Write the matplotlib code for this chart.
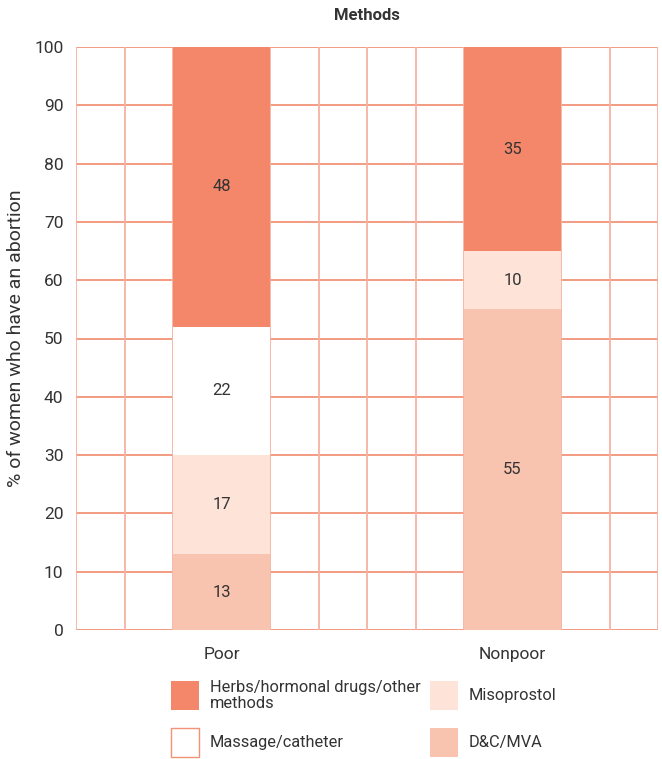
import matplotlib
matplotlib.use("Agg")
import matplotlib.pyplot as plt
from matplotlib.patches import Rectangle
import numpy as np

plt.rcParams['font.family'] = ['Roboto', 'DejaVu Sans']

groups = ["Poor", "Nonpoor"]
methods = ["D&C/MVA", "Misoprostol", "Massage/catheter", "Herbs/hormonal drugs/other\nmethods"]
values = {
    "D&C/MVA": [13, 55],
    "Misoprostol": [17, 10],
    "Massage/catheter": [22, 0],
    "Herbs/hormonal drugs/other\nmethods": [48, 35],
}
colors = {
    "D&C/MVA": "#F9C4AF",
    "Misoprostol": "#FDE3D8",
    "Massage/catheter": "#FFFFFF",
    "Herbs/hormonal drugs/other\nmethods": "#F4876A",
}
yticks = list(range(0, 101, 10))

text_color = "#333333"
grid_h = "#F29378"
grid_v = "#F7B3A1"

fig = plt.figure(figsize=(6.62, 7.59), dpi=100)
ax = fig.add_axes([76 / 662, 1 - 630 / 759, (658 - 76) / 662, (630 - 47) / 759])

x = np.array([3, 9])
bottom = np.zeros(len(groups))
for m in methods:
    v = np.array(values[m], dtype=float)
    ax.bar(x, v, width=2.0, bottom=bottom, color=colors[m], edgecolor="none", zorder=3)
    for xi, vi, bi in zip(x, v, bottom):
        if vi > 0:
            ax.text(xi, bi + vi / 2, f"{int(vi)}", ha="center", va="center",
                    fontsize=12, color=text_color, zorder=4)
    bottom += v

ax.set_xlim(0, 12)
ax.set_ylim(0, 100)
ax.set_xticks(x)
ax.set_xticklabels(groups)
ax.set_yticks(yticks)
ax.tick_params(axis="both", which="both", length=0, labelsize=12.5, colors=text_color)
ax.tick_params(axis="x", pad=12)
ax.tick_params(axis="y", pad=9)

for yv in yticks:
    ax.axhline(yv, color=grid_h, lw=1.3, zorder=1)
for xv in range(0, 13):
    ax.axvline(xv, color=grid_v, lw=1.3, zorder=1)
for s in ax.spines.values():
    s.set_visible(False)

ax.set_ylabel("% of women who have an abortion", fontsize=14, color=text_color, labelpad=7)
fig.text(ax.get_position().x0 + ax.get_position().width / 2, 1 - 16 / 759, "Methods",
         ha="center", va="center", fontsize=12, fontweight="bold", color=text_color)

# legend: two columns, drawn as figure-level patches and labels
legend_order = ["Herbs/hormonal drugs/other\nmethods", "Massage/catheter", "Misoprostol", "D&C/MVA"]
slots = [(171, 681), (171, 728), (430, 681), (430, 728)]
for m, (px, py) in zip(legend_order, slots):
    w, h = 28, 29
    edge = grid_h if colors[m] == "#FFFFFF" else "none"
    fig.add_artist(Rectangle((px / 662, 1 - (py + h) / 759), w / 662, h / 759,
                             transform=fig.transFigure, facecolor=colors[m],
                             edgecolor=edge, lw=1.0))
    fig.text((px + 39) / 662, 1 - (py + h / 2) / 759, m, ha="left", va="center",
             fontsize=11.8, color=text_color, linespacing=1.1)

fig.savefig("out.png", dpi=100)
